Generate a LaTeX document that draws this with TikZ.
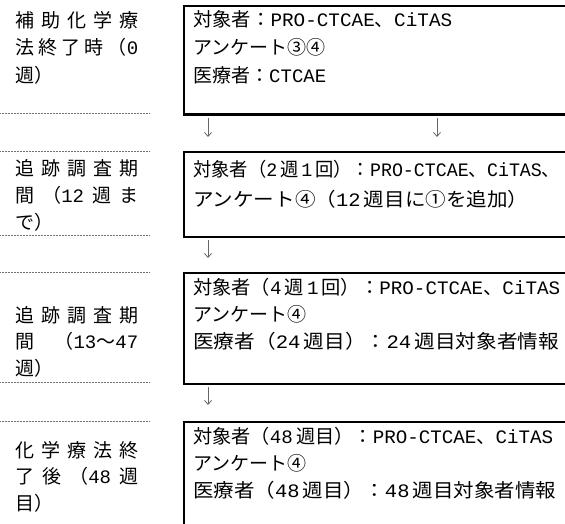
\documentclass[tikz,border=0pt]{standalone}
\usepackage{fontspec}
\usepackage{graphicx}
\setmainfont{Liberation Serif}
\newfontfamily\jp{Noto Sans CJK JP}
\newfontfamily\lm{Liberation Mono}
\usetikzlibrary{arrows.meta}
\newcommand\lt[1]{{\lm #1}}
\newcommand\ssp{\hspace{3bp}}
\newcommand\dist[1]{\makebox[123bp][s]{#1}}
\newcommand\fitw[2]{\resizebox{#1}{\height}{#2}}
\tikzset{
  box/.style={draw, line width=2.2bp, rectangle, inner sep=0pt, anchor=north west},
  txt/.style={anchor=base west, inner sep=0pt, font=\jp\fontsize{19bp}{19bp}\selectfont},
  sep/.style={draw=black!55, line width=0.7bp, dash pattern=on 0.7bp off 0.8bp},
  arr/.style={draw=black!60, line width=0.8bp, -{Straight Barb[length=4bp,width=7bp]}}
}
\begin{document}
\begin{tikzpicture}[x=1bp,y=-1bp]
\useasboundingbox (0,0) rectangle (565,524);
\clip (0,0) rectangle (565,524);
% boxes
\node[box, minimum width=400bp, minimum height=108.5bp] (b1) at (183,5) {};
\node[box, minimum width=400bp, minimum height=84.5bp] (b2) at (183,151) {};
\node[box, minimum width=400bp, minimum height=110.5bp] (b3) at (183,272) {};
\node[box, minimum width=400bp, minimum height=150bp] (b4) at (183,421) {};
% separators
\coordinate (d1a) at (0,113.5); \coordinate (d1b) at (150,113.5);
\coordinate (d2a) at (0,151);   \coordinate (d2b) at (150,151);
\coordinate (d3a) at (0,235);   \coordinate (d3b) at (150,235);
\coordinate (d4a) at (0,272.5); \coordinate (d4b) at (150,272.5);
\coordinate (d5a) at (0,382.5); \coordinate (d5b) at (150,382.5);
\coordinate (d6a) at (0,421);   \coordinate (d6b) at (150,421);
\draw[sep] (d1a) -- (d1b);
\draw[sep] (d2a) -- (d2b);
\draw[sep] (d3a) -- (d3b);
\draw[sep] (d4a) -- (d4b);
\draw[sep] (d5a) -- (d5b);
\draw[sep] (d6a) -- (d6b);
% arrows
\coordinate (a1s) at (208,118); \coordinate (a1e) at (208,137);
\coordinate (a2s) at (437,118); \coordinate (a2e) at (437,137);
\coordinate (a3s) at (208,240); \coordinate (a3e) at (208,258);
\coordinate (a4s) at (208,387); \coordinate (a4e) at (208,405);
\draw[arr] (a1s) -- (a1e);
\draw[arr] (a2s) -- (a2e);
\draw[arr] (a3s) -- (a3e);
\draw[arr] (a4s) -- (a4e);
% left labels
\node[txt] (l1a) at (15,28) {\dist{補\hfill 助\hfill 化\hfill 学\hfill 療}};
\node[txt] (l1b) at (15,55) {\dist{法\hfill 終\hfill 了\hfill 時\hfill （\lt{0}}};
\node[txt] (l1c) at (15,83) {週）};
\node[txt] (l2a) at (15,176) {\dist{追\hfill 跡\hfill 調\hfill 査\hfill 期}};
\node[txt] (l2b) at (15,203) {\dist{間\hfill （\lt{12}\hfill 週\hfill ま}};
\node[txt] (l2c) at (15,229) {で）};
\node[txt] (l3a) at (15,322) {\dist{追\hfill 跡\hfill 調\hfill 査\hfill 期}};
\node[txt] (l3b) at (15,348) {\dist{間\hfill （\lt{13}～\lt{47}}};
\node[txt] (l3c) at (15,375) {週）};
\node[txt] (l4a) at (15,457) {\dist{化\hfill 学\hfill 療\hfill 法\hfill 終}};
\node[txt] (l4b) at (15,483) {\dist{了\hfill 後\hfill （\lt{48}\hfill 週}};
\node[txt] (l4c) at (15,510) {目）};
% right texts
\node[txt] (r1a) at (193,27) {\fitw{259bp}{対象者：\lt{PRO-CTCAE}、\lt{CiTAS}}};
\node[txt] (r1b) at (193,55) {アンケート③④};
\node[txt] (r1c) at (193,83) {医療者：\lt{CTCAE}};
\node[txt] (r2a) at (193,177) {\fitw{367bp}{対象者（\lt{2}\ssp 週\ssp\lt{1}\ssp 回）：\lt{PRO-CTCAE}、\lt{CiTAS}、}};
\node[txt] (r2b) at (193,206) {\fitw{335bp}{アンケート④（\lt{12}\ssp 週目に①を追加）}};
\node[txt] (r3a) at (193,294) {\fitw{367bp}{対象者（\lt{4}\ssp 週\ssp\lt{1}\ssp 回）：\lt{PRO-CTCAE}、\lt{CiTAS}}};
\node[txt] (r3b) at (193,321) {アンケート④};
\node[txt] (r3c) at (193,348) {\fitw{366bp}{医療者（\lt{24}\ssp 週目）：\lt{24}\ssp 週目対象者情報}};
\node[txt] (r4a) at (193,443) {\fitw{360bp}{対象者（\lt{48}\ssp 週目）：\lt{PRO-CTCAE}、\lt{CiTAS}}};
\node[txt] (r4b) at (193,470) {アンケート④};
\node[txt] (r4c) at (193,497) {\fitw{363bp}{医療者（\lt{48}\ssp 週目）：\lt{48}\ssp 週目対象者情報}};
\end{tikzpicture}
\end{document}
